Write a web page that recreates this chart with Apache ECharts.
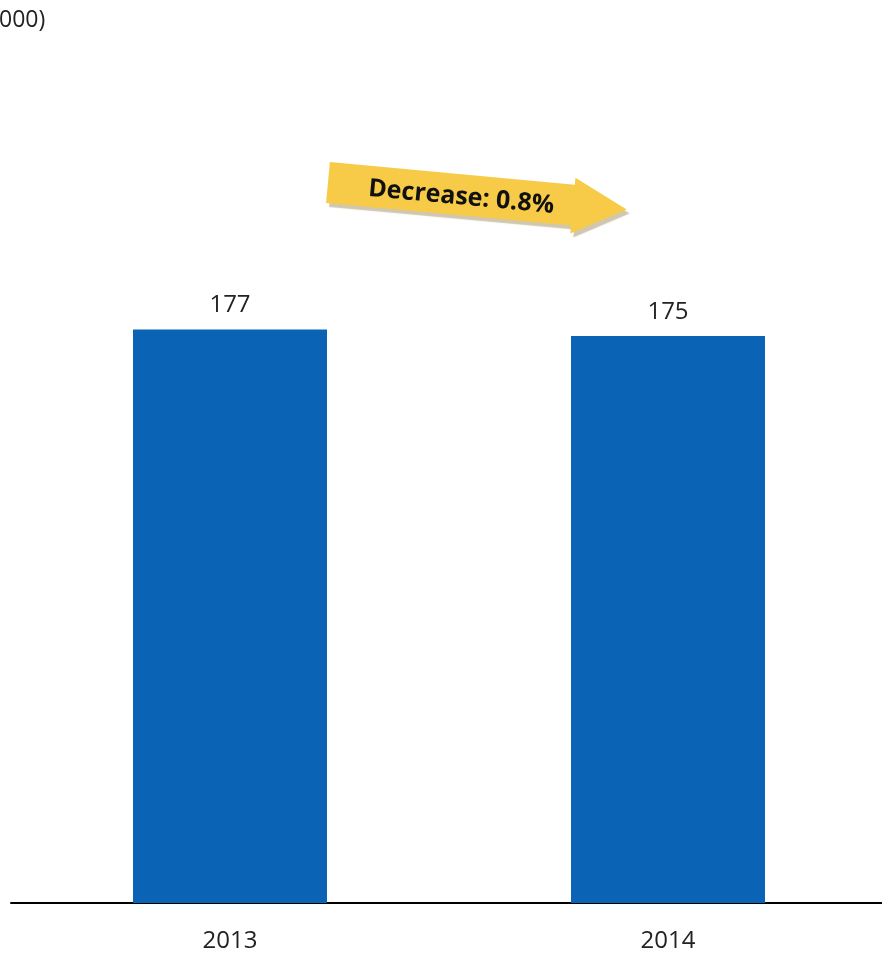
<!DOCTYPE html>
<html><head><meta charset="utf-8">
<script src="https://cdn.jsdelivr.net/npm/echarts@6/dist/echarts.min.js"></script>
<style>html,body{margin:0;padding:0;background:#fff;overflow:hidden}#c{width:890px;height:954px}</style>
</head><body><div id="c"></div>
<script>
const categories = ['2013', '2014'];
const values = [177, 175];
const unitText = '000)';
const changeText = 'Decrease: 0.8%';

const chart = echarts.init(document.getElementById('c'));
const FONT = '"Open Sans", "Noto Sans", sans-serif';
chart.setOption({
  animation: false,
  grid: { left: 11, width: 876, top: 93, bottom: 51 },
  xAxis: {
    type: 'category', data: categories,
    axisLine: { show: true, lineStyle: { color: '#000', width: 2 } },
    axisTick: { show: false },
    axisLabel: { margin: 26, fontSize: 24, color: '#222', fontFamily: FONT }
  },
  yAxis: { type: 'value', min: 0, max: 250, show: false, splitLine: { show: false } },
  series: [{
    type: 'bar', data: values, barWidth: 194,
    itemStyle: { color: '#0A63B4' },
    label: { show: true, position: 'top', distance: 12, fontSize: 24, color: '#222', fontFamily: FONT }
  }],
  graphic: [
    { type: 'text', left: -1, top: 9, style: { text: unitText, fontSize: 23, fill: '#222', fontFamily: FONT } },
    {
      type: 'group', x: 328, y: 182, rotation: -0.092,
      children: [
        { type: 'polygon',
          shape: { points: [[0,-20],[246,-20],[246,-27],[300,0],[246,29],[246,21],[0,21]] },
          style: { fill: '#F7CB47', shadowColor: 'rgba(150,130,80,0.45)', shadowOffsetX: 3, shadowOffsetY: 4, shadowBlur: 1 } },
        { type: 'text', x: 134, y: 3,
          style: { text: changeText, fontSize: 25, fontWeight: 'bold', fill: '#111', fontFamily: FONT, align: 'center', verticalAlign: 'middle' } }
      ]
    }
  ]
});
</script></body></html>
